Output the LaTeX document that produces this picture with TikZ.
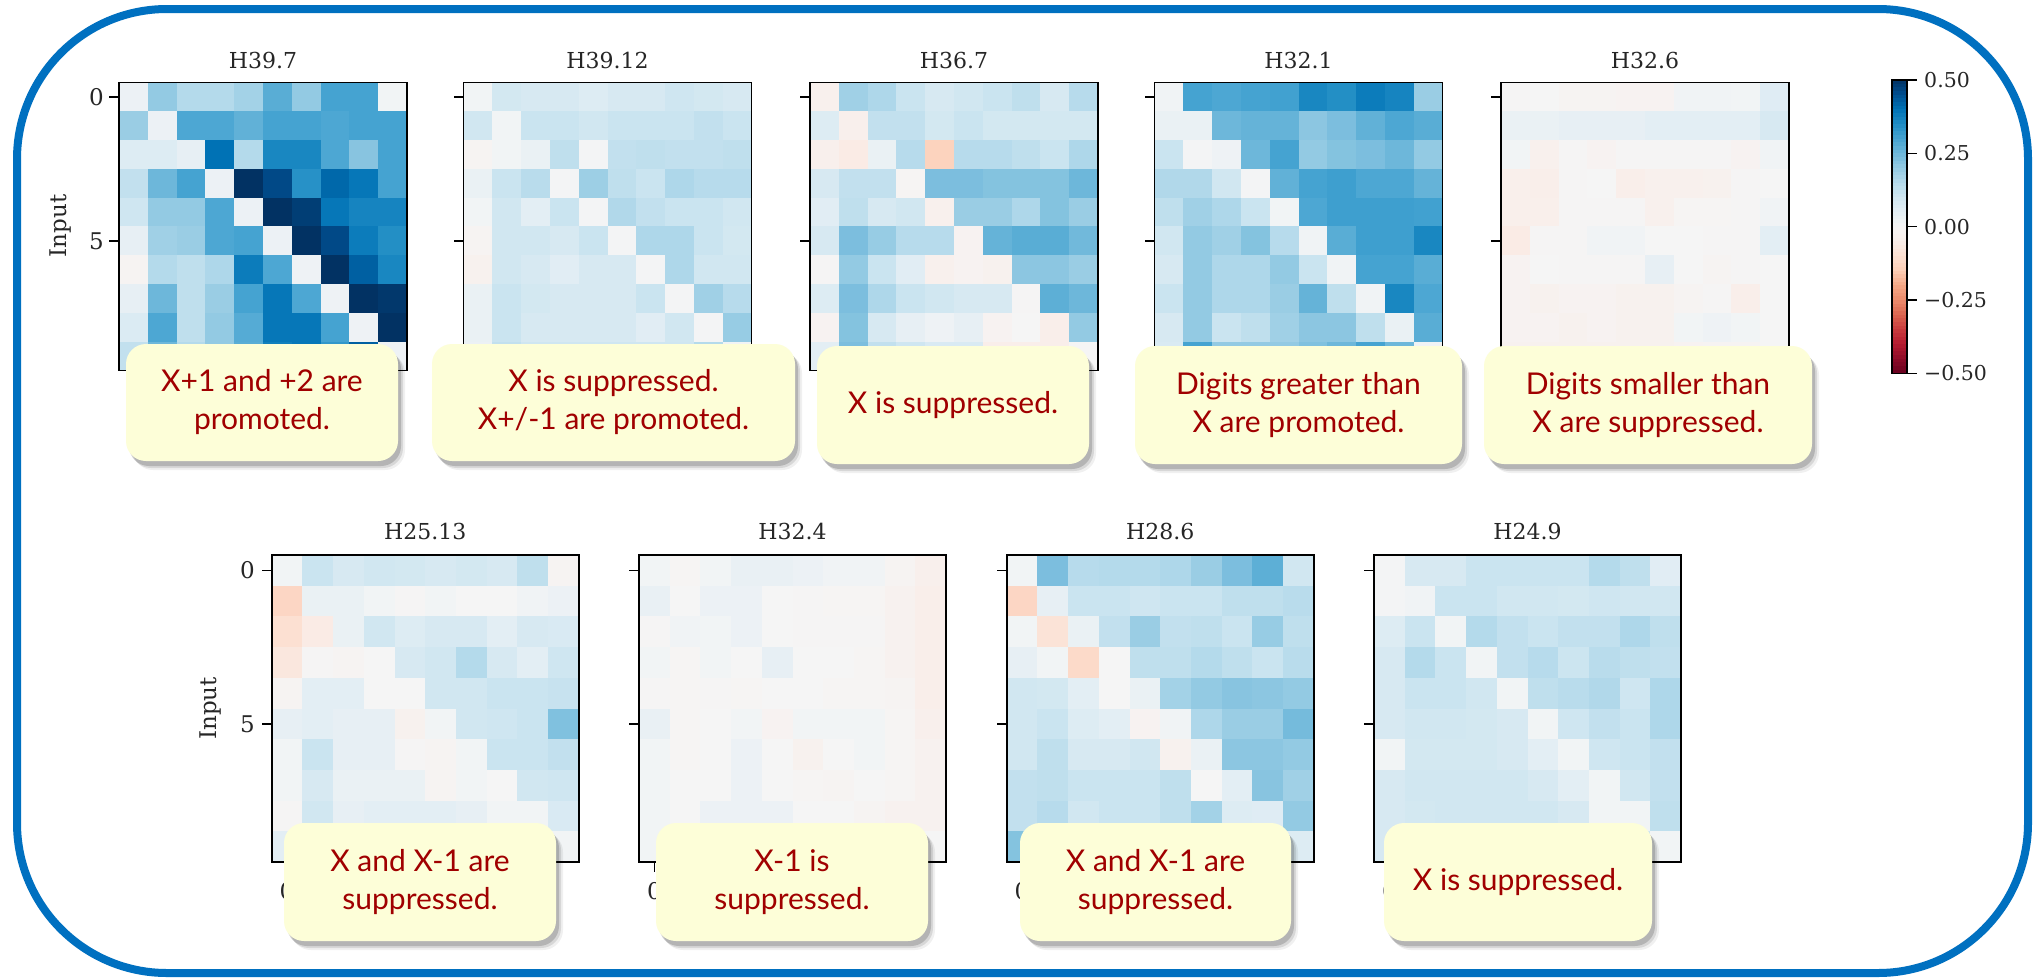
\documentclass[tikz,border=0pt]{standalone}
\usepackage{fontspec}
\setmainfont{DejaVu Serif}
\newfontfamily\latofont{Lato}
\usetikzlibrary{shadows}
\definecolor{frameblue}{HTML}{0070C0}
\definecolor{boxfill}{HTML}{FDFED8}
\definecolor{lblred}{HTML}{A00000}
\definecolor{tickgray}{HTML}{262626}
% blue side (positive), level k = 0.05*k
\definecolor{b0}{HTML}{F5F5F5}
\definecolor{b1}{HTML}{E3EEF4}
\definecolor{b2}{HTML}{CFE6F1}
\definecolor{b3}{HTML}{B4DAEB}
\definecolor{b4}{HTML}{93CAE3}
\definecolor{b5}{HTML}{6DB7DA}
\definecolor{b6}{HTML}{45A3D1}
\definecolor{b7}{HTML}{1F8CC4}
\definecolor{b8}{HTML}{0072B5}
\definecolor{b9}{HTML}{004F90}
\definecolor{b10}{HTML}{023263}
% red side (negative)
\definecolor{r0}{HTML}{F5F5F5}
\definecolor{r1}{HTML}{F9EEEA}
\definecolor{r2}{HTML}{FCE0D2}
\definecolor{r3}{HTML}{FCCDB5}
\definecolor{r4}{HTML}{F5A886}
\definecolor{r5}{HTML}{EC8B6C}
\definecolor{r6}{HTML}{DB6550}
\definecolor{r7}{HTML}{C93C3E}
\definecolor{r8}{HTML}{B51B30}
\definecolor{r9}{HTML}{8E0C28}
\definecolor{r10}{HTML}{67001F}

\newcommand\hmcolor[1]{%
  \pgfmathsetmacro\hmabs{min(abs(#1),9.999)}%
  \pgfmathtruncatemacro\hmi{floor(\hmabs)}%
  \pgfmathtruncatemacro\hmj{\hmi+1}%
  \pgfmathtruncatemacro\hmf{(\hmabs-\hmi)*100}%
  \ifdim #1pt<0pt \def\hmp{r}\else\def\hmp{b}\fi
  \colorlet{hmc}{\hmp\hmj!\hmf!\hmp\hmi}%
}

% #1 x, #2 y (top-left), #3 size, #4 data (100 values, row by row)
\newcommand\heatmap[4]{%
  \foreach \v [count=\k from 0] in {#4} {%
    \pgfmathtruncatemacro\rr{int(\k/10)}%
    \pgfmathtruncatemacro\cc{\k-10*\rr}%
    \hmcolor{\v}%
    \fill[hmc] ({#1+\cc*(#3/10)},{#2+\rr*(#3/10)}) rectangle ++({#3/10+0.7},{#3/10+0.7});
  }%
  \draw[axisline] (#1,#2) rectangle ++(#3,#3);
  \draw[axisline] (#1,{#2+#3/20}) -- ++(-10,0);
  \draw[axisline] (#1,{#2+5.5*#3/10}) -- ++(-10,0);
  \draw[axisline] ({#1+#3/20},{#2+#3}) -- ++(0,10);
  \draw[axisline] ({#1+5.5*#3/10},{#2+#3}) -- ++(0,10);
}

\tikzset{
  axisline/.style={draw=black, line width=1.6pt},
  ttl/.style={font=\fontsize{22}{26}\selectfont, text=tickgray, inner sep=0pt},
  tlab/.style={font=\fontsize{23}{27}\selectfont, text=tickgray, inner sep=0pt},
  cblab/.style={font=\fontsize{20.5}{24}\selectfont, text=tickgray, inner sep=0pt, anchor=west},
  lbl/.style={rounded corners=20pt, fill=boxfill, text=lblred, align=center,
    inner sep=0pt, font=\latofont\fontsize{30}{38}\selectfont,
    drop shadow={shadow xshift=7pt, shadow yshift=-9pt, fill=black, opacity=0.06},
    drop shadow={shadow xshift=5pt, shadow yshift=-7pt, fill=black, opacity=0.10},
    drop shadow={shadow xshift=3pt, shadow yshift=-5pt, fill=black, opacity=0.16}},
}

\begin{document}
\begin{tikzpicture}[x=1pt,y=-1pt]
\useasboundingbox (0,0) rectangle (2040,978);
\fill[white] (0,0) rectangle (2040,978);
\draw[frameblue, line width=8pt, rounded corners=150pt] (17,9) rectangle (2028,973);

% ---------- top row ----------
\heatmap{119}{82.3}{288}{
0.5,4,3,3,3.5,5.5,4,6,6,0.2,
3.8,0.5,5.8,5.8,5.3,6,6,5.8,6,6,
1.3,1.3,0.8,8,3,7.2,7.2,5.8,4.3,6,
2.5,5,6,0.5,10,9.2,6.8,8.3,7.8,6,
2,4,4,5.8,0.5,10,9.6,7.8,7.3,7.3,
0.8,3.6,3.8,5.8,6,0.5,10,9.2,7.6,6.9,
-0.3,3,2.6,3.2,7.6,5.8,0.4,10,8.5,7.2,
0.8,5,2.6,3.8,6,7.8,5.8,0.4,10,9.8,
1.4,5.8,2.6,4,5.6,7.8,7.8,6,0.4,10,
2.5,5,3,4,5.5,7.5,7.8,6.5,8.5,0.4}
\heatmap{463.5}{82.3}{288}{
0.2,1.8,1.6,1.6,1.3,1.6,1.6,2,1.8,1.6,
1.9,0.2,2.2,2.2,1.9,2.2,2.2,2.2,2.5,2.2,
-0.3,0.2,0.6,2.6,0.1,2.5,2.6,2.5,2.5,2.6,
0.6,2.2,2.8,0.1,3.7,2.6,2.2,3.2,2.9,2.9,
0.2,1.9,1,2.2,0.1,3.1,2.5,2.2,2.2,1.9,
-0.3,1.9,1.9,1.6,2.2,0.1,3.2,3.2,2.2,1.8,
-0.6,1.9,1.6,1.1,1.6,1.6,0.1,3.2,1.9,1.9,
0.6,2.2,1.8,1.6,1.6,1.6,2.2,0.1,3.6,2.9,
0.6,2.2,1.6,1.6,1.6,1.6,1.1,1.9,0.1,3.9,
0.5,2.5,2,2,2,2,2,2,3,0.2}
\heatmap{810}{82.3}{288}{
-0.7,3.6,3.2,2.2,1.6,1.9,2.2,2.6,1.6,2.9,
1.3,-0.8,2.5,2.5,1.8,2.2,1.8,1.8,1.8,1.8,
-0.8,-1.2,0.6,2.9,-2.7,2.9,2.9,2.6,2.2,3.2,
1.6,2.5,2.5,-0.2,4.6,4.6,4.4,4.4,4.4,5,
1.1,2.6,1.6,1.9,-0.7,3.8,3.8,3.2,4.4,3.8,
1.6,4.6,3.9,2.9,2.9,-0.4,5.2,5.5,5.5,4.9,
-0.1,4,2.2,1.1,-0.7,-0.4,-0.6,4.2,4.2,3.8,
1.3,4.6,3.2,2.2,1.9,1.6,1.6,-0.1,5.4,5,
-0.4,4.4,1.6,0.8,0.4,0.8,-0.4,0,-1,4,
1,4.6,2.5,2,1.5,1.5,-1,-1,-1,0}
\heatmap{1154.5}{82.3}{288}{
0.3,6,5.8,6,6.1,7.2,6.9,7.6,7.3,3.8,
0.6,0.6,5,5.2,5.2,4.2,4.6,5.3,5.8,5.5,
2.2,0.1,0.4,5,6,4,4.4,4.6,5,4,
3.1,3.1,1.9,0.1,5.3,6,6.2,5.8,5.8,5.2,
2.6,3.6,3.2,2.2,0.2,5.8,6.2,6.2,6.2,6.1,
1.9,4,3.6,4.4,2.9,0.3,5.5,6.2,6.2,7.2,
1.6,4,3.2,3.2,4,2.2,0.3,6,6,5.5,
2.2,4,3.2,3.2,3.8,5.2,2.6,0.3,7.2,5.8,
1.6,4,2.2,2.6,3.6,4.2,4.2,2.6,0.6,5.5,
1.5,6,4,4,4,4.5,5,6,5,0.3}
\heatmap{1501}{82.3}{288}{
-0.1,0,-0.3,-0.3,-0.4,-0.4,0.3,0.3,0.2,1.2,
0.6,0.6,0.8,0.8,0.8,1,1,1,1,1.6,
0.2,-0.7,-0.1,-0.4,-0.1,-0.1,-0.1,-0.1,-0.4,0.3,
-0.9,-1,-0.1,0,-1,-0.7,-0.7,-0.6,-0.1,0,
-0.9,-0.9,-0.1,-0.1,-0.1,-0.7,-0.2,-0.2,-0.1,0.3,
-1.2,-0.1,-0.1,0.3,0.3,0,0,-0.1,-0.1,1,
-0.4,0,-0.1,-0.1,-0.1,0.8,0,-0.3,-0.1,0,
-0.4,-0.6,-0.4,-0.4,-0.6,-0.6,-0.3,-0.1,-1,0,
-0.4,-0.4,-0.6,-0.4,-0.6,-0.6,0.2,0.4,0.2,0,
-0.5,-0.6,-0.6,-0.6,-0.6,-0.6,-0.4,-0.3,-0.3,0}

\node[ttl] (t1) at (263,60) {H39.7};
\node[ttl] (t2) at (607.5,60) {H39.12};
\node[ttl] (t3) at (954,60) {H36.7};
\node[ttl] (t4) at (1298.5,60) {H32.1};
\node[ttl] (t5) at (1645,60) {H32.6};
\node[tlab, anchor=east] (y10) at (104,96.7) {0};
\node[tlab, anchor=east] (y15) at (104,241.7) {5};
\node[tlab, rotate=90] (in1) at (61,226) {Input};

% ---------- bottom row ----------
\heatmap{271.7}{555}{307}{
0.2,2.2,1.6,1.9,1.8,1.6,1.8,1.6,2.6,-0.3,
-2.5,0.6,0.6,0.2,-0.1,0.2,0,0,0.3,0.5,
-2,-1.2,0.6,1.9,1.3,1.6,1.6,1,1.6,1.5,
-1.5,-0.1,-0.3,0,1.6,1.9,3,1.6,1,2,
-0.3,1,1,0,0,1.9,1.9,2.2,2.2,2.3,
0.8,1,0.8,0.8,-0.6,0.2,1.9,2,2.2,4.5,
0.2,2.2,0.8,0.8,-0.1,-0.3,0.2,2.2,2.2,2.5,
0.2,1.6,0.6,0.6,0.6,-0.3,0.2,0,1.9,2,
-0.1,1.9,0.8,1,1,1,0.8,0.2,0.2,1.5,
1,1,1,1,1,1,1,1,0.5,0.2}
\heatmap{639}{555}{307}{
0.2,-0.2,0.2,0.7,0.7,0.5,0.3,0.3,-0.3,-0.8,
0.7,0,0.5,0.5,0,-0.1,-0.2,-0.2,-0.5,-1,
-0.1,0.3,0.2,0.5,0,-0.1,-0.1,-0.1,-0.5,-1,
0.2,-0.2,0.2,0,0.8,0,0,-0.2,-0.5,-1,
-0.1,-0.2,-0.1,-0.2,0,0,-0.2,-0.2,-0.3,-1,
0.7,-0.2,0,0.2,-0.4,0.2,0.2,0.2,-0.2,-0.8,
0.2,-0.2,0,0.5,0,-0.6,0,0.2,-0.2,-0.5,
0.2,0,0,0.5,0,-0.2,-0.3,0,-0.2,-0.5,
0.2,0,0.5,0.5,0.5,0,0,-0.3,-0.5,-0.5,
0.2,0,0,0,0,0,0,-0.4,-0.5,0}
\heatmap{1006.7}{555}{307}{
0.2,4.6,2.9,3,3,3.2,3.8,4.6,5.4,1.9,
-2.5,0.8,2.2,2.2,2,2.2,2.2,2.6,2.6,2.8,
0.2,-1.8,0.6,2.5,3.8,2.5,2.6,2.2,3.9,2.6,
0.8,0.2,-2.3,0,2.6,2.6,3,2.6,2.2,2.8,
1.9,1.8,1,0,0.6,3.5,4,4.3,4.2,4,
1.9,2.2,1.3,1,-0.4,0.3,3.2,3.8,3.8,4.8,
1.9,2.6,1.6,1.6,1.9,-0.6,0.6,4.2,4.2,4,
2.5,2.6,2.2,2.2,2.2,2.6,0,1,4.3,3.6,
2.5,2.9,1.9,2.2,2.2,2.6,3.5,1.3,1.2,4,
4.4,2.5,2.5,2.5,2.5,2.5,2.5,2.5,2.5,1.3}
\heatmap{1374}{555}{307}{
0.1,1.6,1.6,2.2,2.2,2.2,2.2,3,2.6,1.1,
0.1,0.3,2.2,2.2,1.9,1.9,1.8,2,1.9,1.9,
1.3,2.2,0.2,3,2.5,2.2,2.5,2.5,3.2,2.6,
1.6,3,2.2,0.2,2.5,2.9,2.1,2.8,2.6,2.5,
1.6,2.2,2.2,1.9,0.2,2.6,2.8,3.1,2,3.2,
1.6,1.9,1.9,1.8,1.6,0.2,2,2.5,2.2,3.2,
0.2,1.8,1.8,1.8,1.6,1,0.2,2,2.2,2.5,
1.6,1.9,1.9,1.9,1.9,1.6,1,0.2,1.9,2.5,
1.6,1.8,1.9,1.9,1.9,1.9,1.6,0.2,0.2,2.6,
1.6,2,2,2,2,2,2,2,2,0.2}

\node[ttl] (t6) at (425.2,531) {H25.13};
\node[ttl] (t7) at (792.5,531) {H32.4};
\node[ttl] (t8) at (1160.2,531) {H28.6};
\node[ttl] (t9) at (1527.5,531) {H24.9};
\node[tlab, anchor=east] (y20) at (255,570.4) {0};
\node[tlab, anchor=east] (y25) at (255,724) {5};
\node[tlab, rotate=90] (in2) at (211,708.5) {Input};
\node[tlab] (x6) at (287,891) {0};
\node[tlab] (x7) at (654.4,891) {0};
\node[tlab] (x8) at (1022,891) {0};
\node[tlab] (x9) at (1389.4,891) {0};

% ---------- colorbar ----------
\foreach \i in {0,...,79} {
  \pgfmathsetmacro\lev{9.875-0.25*\i}
  \hmcolor{\lev}
  \fill[hmc] (1892,{80+\i*3.66625}) rectangle ++(15,4.3);
}
\draw[black, line width=1.4pt] (1892,80) rectangle (1907,373.3);
\foreach \yy/\tx [count=\n] in {80/0.50,153.3/0.25,226.7/0.00,300/−0.25,373.3/−0.50} {
  \draw[black, line width=1.4pt] (1907,\yy) -- ++(10,0);
  \node[cblab] (cb\n) at (1924,\yy) {\tx};
}

% ---------- label boxes ----------
\node[lbl, minimum width=272pt, minimum height=117pt] (l1) at (262,402.5) {X+1 and +2 are\\promoted.};
\node[lbl, minimum width=363pt, minimum height=117pt] (l2) at (613.5,402.5) {X is suppressed.\\X+/-1 are promoted.};
\node[lbl, minimum width=272pt, minimum height=118pt] (l3) at (953,405) {X is suppressed.};
\node[lbl, minimum width=327pt, minimum height=118pt] (l4) at (1298.5,405) {Digits greater than\\X are promoted.};
\node[lbl, minimum width=328pt, minimum height=118pt] (l5) at (1648,405) {Digits smaller than\\X are suppressed.};
\node[lbl, minimum width=272pt, minimum height=118pt] (l6) at (420,882) {X and X-1 are\\suppressed.};
\node[lbl, minimum width=272pt, minimum height=118pt] (l7) at (792,882) {X-1 is\\suppressed.};
\node[lbl, minimum width=271pt, minimum height=118pt] (l8) at (1155.5,882) {X and X-1 are\\suppressed.};
\node[lbl, minimum width=268pt, minimum height=118pt] (l9) at (1518,882) {X is suppressed.};
\end{tikzpicture}
\end{document}
